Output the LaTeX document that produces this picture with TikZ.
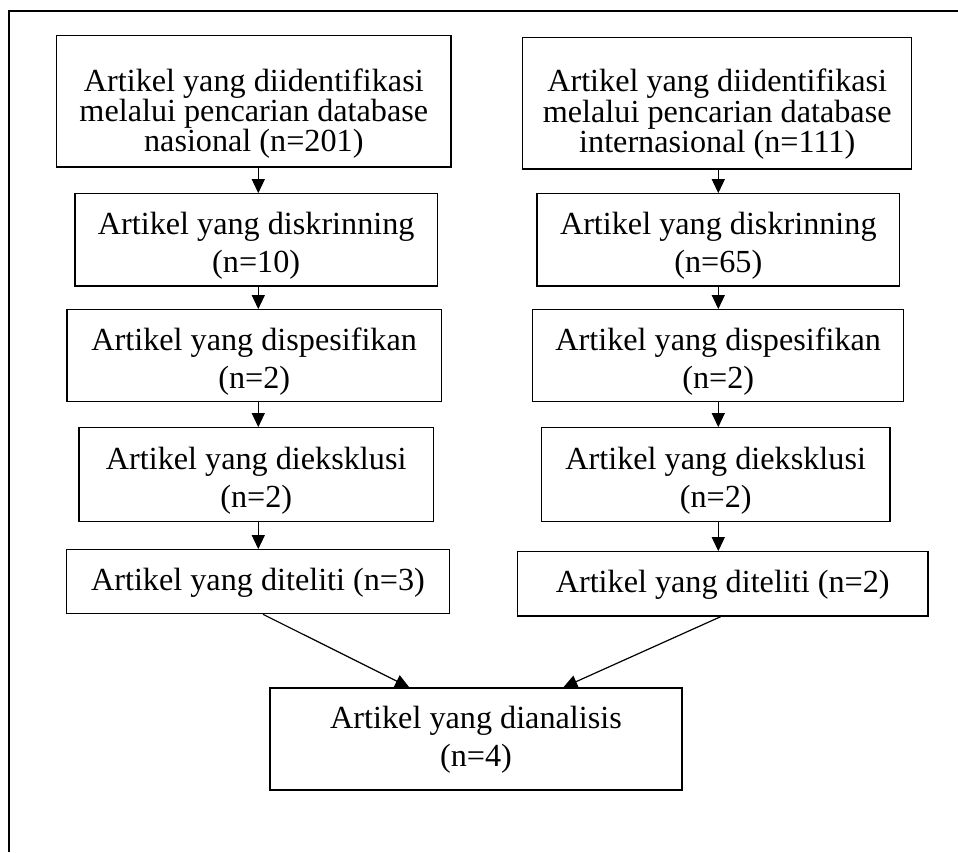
\documentclass[tikz,border=0pt]{standalone}
\usepackage{fontspec}
\setmainfont{Liberation Serif}
\usetikzlibrary{arrows.meta}
\begin{document}
\begin{tikzpicture}[x=1pt,y=-1pt,
  box/.style={draw, line width=1.2pt, inner sep=0pt},
  txt/.style={inner sep=0pt, align=center, font=\fontsize{32.2}{38}\selectfont},
  tighttxt/.style={txt, font=\fontsize{32.2}{28.8}\selectfont},
  arr/.style={line width=1.2pt, -{Triangle[length=14pt,width=13pt]}},
  frameline/.style={line width=2pt}]
\useasboundingbox (0,0) rectangle (958,852);
% frame
\coordinate (f0) at (9,852);
\coordinate (f1) at (9,11);
\coordinate (f2) at (958,11);
\draw[frameline] (f0) -- (f1) -- (f2);
% left column
\node[box, minimum width=394.3pt, minimum height=131.3pt] (L1) at (253.8,101.4) {};
\node[tighttxt] (L1t) at ([yshift=-12pt]L1.center)
  {Artikel yang diidentifikasi\\melalui pencarian database\\nasional (n=201)};
\node[box, minimum width=362.3pt, minimum height=92.3pt] (L2) at (256.2,239.9) {};
\node[txt] (L2t) at ([yshift=-6pt]L2.center) {Artikel yang diskrinning\\(n=10)};
\node[box, minimum width=374.3pt, minimum height=92pt] (L3) at (254.2,355.7) {};
\node[txt] (L3t) at ([yshift=-6pt]L3.center) {Artikel yang dispesifikan\\(n=2)};
\node[box, minimum width=354.3pt, minimum height=94pt] (L4) at (256.2,474.7) {};
\node[txt] (L4t) at ([yshift=-6pt]L4.center) {Artikel yang dieksklusi\\(n=2)};
\node[box, minimum width=382.6pt, minimum height=64pt] (L5) at (258,581.7) {};
\node[txt] (L5t) at ([yshift=-1pt]L5.center) {Artikel yang diteliti (n=3)};
% right column
\node[box, minimum width=389pt, minimum height=131.7pt] (R1) at (717.2,103.2) {};
\node[tighttxt] (R1t) at ([yshift=-11pt]R1.center)
  {Artikel yang diidentifikasi\\melalui pencarian database\\internasional (n=111)};
\node[box, minimum width=362.7pt, minimum height=92.3pt] (R2) at (718.3,239.9) {};
\node[txt] (R2t) at ([yshift=-6pt]R2.center) {Artikel yang diskrinning\\(n=65)};
\node[box, minimum width=371pt, minimum height=92pt] (R3) at (718.2,355.7) {};
\node[txt] (R3t) at ([yshift=-6pt]R3.center) {Artikel yang dispesifikan\\(n=2)};
\node[box, minimum width=348.7pt, minimum height=94pt] (R4) at (715.7,474.7) {};
\node[txt] (R4t) at ([yshift=-6pt]R4.center) {Artikel yang dieksklusi\\(n=2)};
\node[box, minimum width=410.7pt, minimum height=64.3pt] (R5) at (722.7,583.9) {};
\node[txt] (R5t) at ([yshift=-1pt]R5.center) {Artikel yang diteliti (n=2)};
% bottom
\node[box, minimum width=412pt, minimum height=102pt] (B) at (476,739) {};
\node[txt] (Bt) at ([yshift=-1pt]B.center) {Artikel yang dianalisis\\(n=4)};
% arrows
\coordinate (lx) at (258.3,0);
\coordinate (rx) at (718.3,0);
\draw[arr] (L1.south -| lx) -- (L2.north -| lx);
\draw[arr] (L2.south -| lx) -- (L3.north -| lx);
\draw[arr] (L3.south -| lx) -- (L4.north -| lx);
\draw[arr] (L4.south -| lx) -- (L5.north -| lx);
\draw[arr] (R1.south -| rx) -- (R2.north -| rx);
\draw[arr] (R2.south -| rx) -- (R3.north -| rx);
\draw[arr] (R3.south -| rx) -- (R4.north -| rx);
\draw[arr] (R4.south -| rx) -- (R5.north -| rx);
\coordinate (la) at (263,0);
\coordinate (lb) at (409.3,0);
\coordinate (ra) at (720.7,0);
\coordinate (rb) at (563.3,0);
\draw[arr] (L5.south -| la) -- (B.north -| lb);
\draw[arr] (R5.south -| ra) -- (B.north -| rb);
\end{tikzpicture}
\end{document}
